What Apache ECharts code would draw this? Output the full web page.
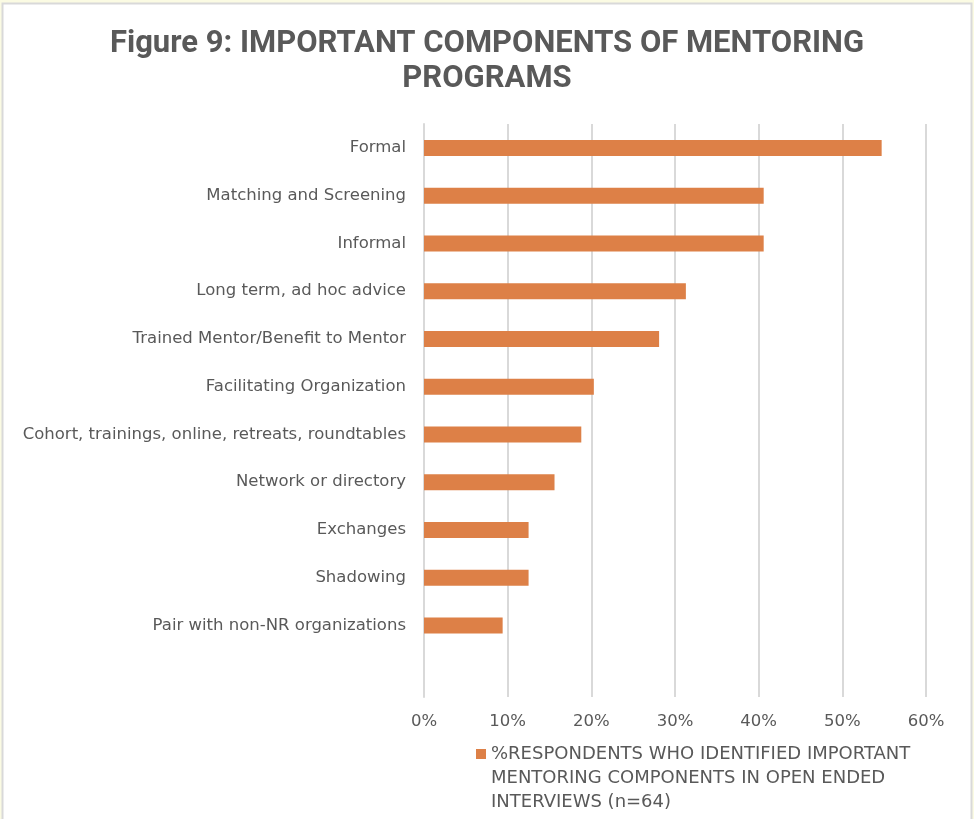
<!DOCTYPE html>
<html><head><meta charset="utf-8">
<script src="https://cdn.jsdelivr.net/npm/echarts@6/dist/echarts.min.js"></script>
<style>html,body{margin:0;padding:0;background:#fbfbe3;}#c{width:974px;height:819px;}</style>
</head><body><div id="c"></div>
<script>
const categories = ["Formal","Matching and Screening","Informal","Long term, ad hoc advice","Trained Mentor/Benefit to Mentor","Facilitating Organization","Cohort, trainings, online, retreats, roundtables","Network or directory","Exchanges","Shadowing","Pair with non-NR organizations",""];
const values = [54.7,40.6,40.6,31.3,28.1,20.3,18.8,15.6,12.5,12.5,9.4,null];
const xTicks = [0,10,20,30,40,50,60];
const seriesName = "%RESPONDENTS WHO IDENTIFIED IMPORTANT\nMENTORING COMPONENTS IN OPEN ENDED\nINTERVIEWS (n=64)";
const titleText = "Figure 9: IMPORTANT COMPONENTS OF MENTORING\nPROGRAMS";

const chart = echarts.init(document.getElementById('c'));
const font = "'DejaVu Sans',sans-serif";
chart.setOption({
  backgroundColor: '#fbfbe3',
  animation: false,
  graphic: [{type:'rect', shape:{x:2.5,y:3.5,width:969,height:830}, style:{fill:'#ffffff', stroke:'#d9d9d9', lineWidth:2}, z:-10}],
  title: {
    text: titleText, left: 'center', top: 22,
    textStyle: {color:'#595959', fontSize:31, fontWeight:'bold', fontFamily:"'Roboto','DejaVu Sans',sans-serif", lineHeight:35}
  },
  legend: {
    left: 471, top: 737, itemWidth: 10, itemHeight: 72, itemGap: 0,
    icon: 'path://M0,7h10v10h-10z M0,0h0.01v0.01h-0.01z M0,72h0.01v0.01h-0.01z',
    textStyle: {color:'#595959', fontSize:18, fontFamily:font, lineHeight:24},
    data: [seriesName]
  },
  grid: {left:424, right:48, top:124, bottom:122, containLabel:false},
  xAxis: {
    type:'value', min:0, max:60, interval:10,
    axisLine:{show:false}, axisTick:{show:false},
    splitLine:{show:true, lineStyle:{color:'#d9d9d9', width:2}},
    axisLabel:{color:'#595959', fontSize:16.5, fontFamily:font, margin:16,
      formatter: v => xTicks.includes(v) ? v + '%' : ''}
  },
  yAxis: {
    type:'category', data: categories, inverse:true,
    axisLine:{show:true, lineStyle:{color:'#d9d9d9', width:2}},
    axisTick:{show:false},
    axisLabel:{color:'#595959', fontSize:16.5, fontFamily:font, margin:18}
  },
  series: [{
    name: seriesName, type:'bar', data: values, barWidth:16,
    itemStyle:{color:'#dd8047'}
  }]
});
</script></body></html>
